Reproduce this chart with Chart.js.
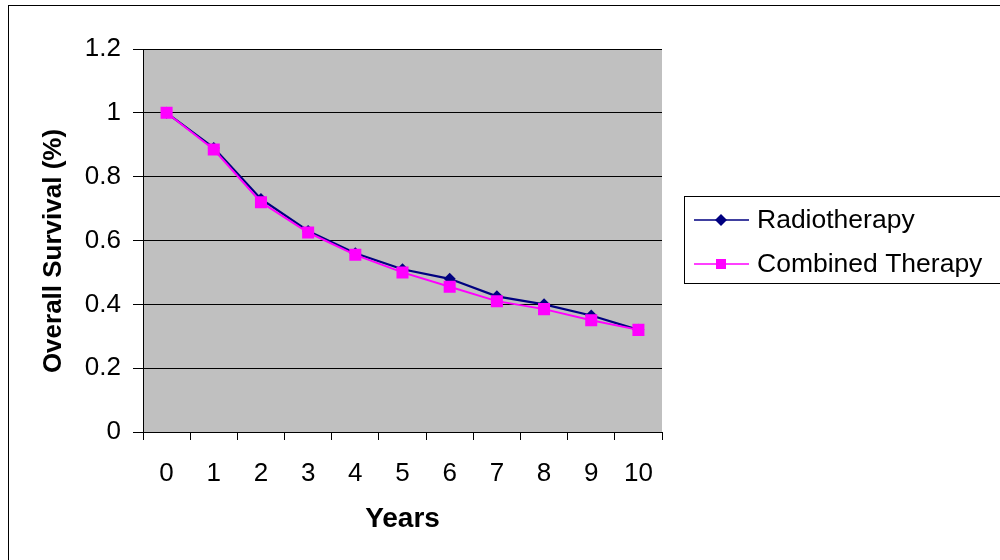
<!DOCTYPE html>
<html>
<head>
<meta charset="utf-8">
<script src="https://cdn.jsdelivr.net/npm/chart.js@4"></script>
<style>
  html, body { margin: 0; padding: 0; background: #ffffff; }
  #wrap { width: 1000px; height: 560px; position: relative; }
</style>
</head>
<body>
<div id="wrap"><canvas id="survivalChart" width="1000" height="560"></canvas></div>
<script>
// data
const years = ['0', '1', '2', '3', '4', '5', '6', '7', '8', '9', '10'];
const radiotherapy = [1.0, 0.89, 0.73, 0.63, 0.56, 0.51, 0.48, 0.425, 0.40, 0.365, 0.32];
const combinedTherapy = [1.0, 0.885, 0.72, 0.625, 0.555, 0.50, 0.455, 0.41, 0.385, 0.35, 0.32];
const seriesNames = ['Radiotherapy', 'Combined Therapy'];
const yTicks = [0, 0.2, 0.4, 0.6, 0.8, 1, 1.2];
const yTitle = 'Overall Survival (%)';

const FONT = 'Liberation Sans, Arial, sans-serif';

// frame, grey plot area, y title (sits a bit low, like Excel) and the boxed legend
const excelLook = {
    id: 'excelLook',
    beforeDraw(chart) {
        const ctx = chart.ctx;
        const a = chart.chartArea;
        ctx.save();
        ctx.fillStyle = '#ffffff';
        ctx.fillRect(0, 0, chart.width, chart.height);
        ctx.strokeStyle = '#000000';
        ctx.lineWidth = 1;
        ctx.strokeRect(8.5, 5.5, 1000, 600);
        ctx.fillStyle = '#c0c0c0';
        ctx.fillRect(a.left, a.top, a.right - a.left, a.bottom - a.top);
        ctx.restore();
    },
    afterDraw(chart) {
        const ctx = chart.ctx;
        ctx.save();
        ctx.translate(54, 251);
        ctx.rotate(-Math.PI / 2);
        ctx.font = 'bold 26px ' + FONT;
        ctx.fillStyle = '#000000';
        ctx.textAlign = 'center';
        ctx.textBaseline = 'middle';
        ctx.fillText(yTitle, 0, 0);
        ctx.restore();

        ctx.save();
        ctx.strokeStyle = '#000000';
        ctx.lineWidth = 1;
        ctx.strokeRect(684.5, 196.5, 330, 87);
        ctx.font = '26.5px ' + FONT;
        ctx.textBaseline = 'middle';
        chart.data.datasets.forEach((ds, i) => {
            const y = 220 + i * 44;
            ctx.strokeStyle = ds.borderColor;
            ctx.lineWidth = 1.5;
            ctx.beginPath();
            ctx.moveTo(694, y);
            ctx.lineTo(749, y);
            ctx.stroke();
            ctx.fillStyle = ds.backgroundColor;
            if (ds.pointStyle === 'rect') {
                ctx.fillRect(716, y - 5, 10, 10);
            } else {
                ctx.beginPath();
                ctx.moveTo(721, y - 6);
                ctx.lineTo(727, y);
                ctx.lineTo(721, y + 6);
                ctx.lineTo(715, y);
                ctx.closePath();
                ctx.fill();
            }
            ctx.fillStyle = '#000000';
            ctx.fillText(ds.label, 757, y + 1);
        });
        ctx.restore();
    }
};

new Chart(document.getElementById('survivalChart'), {
    type: 'line',
    data: {
        labels: years,
        datasets: [
            {
                label: seriesNames[0],
                data: radiotherapy,
                borderColor: '#000080',
                backgroundColor: '#000080',
                borderWidth: 2.2,
                pointStyle: 'rectRot',
                pointRadius: 6,
                pointBorderWidth: 0,
                tension: 0,
                order: 1
            },
            {
                label: seriesNames[1],
                data: combinedTherapy,
                borderColor: '#ff00ff',
                backgroundColor: '#ff00ff',
                borderWidth: 2,
                pointStyle: 'rect',
                pointRadius: 8.5,
                pointBorderWidth: 0,
                tension: 0,
                order: 0
            }
        ]
    },
    options: {
        responsive: false,
        animation: false,
        devicePixelRatio: 1,
        layout: { padding: { left: 0, top: 49, right: 338, bottom: 0 } },
        plugins: {
            legend: { display: false },
            tooltip: { enabled: false }
        },
        scales: {
            x: {
                type: 'category',
                offset: true,
                afterFit(scale) { scale.height = 128; },
                grid: {
                    offset: true,
                    drawOnChartArea: false,
                    color: '#000000',
                    tickLength: 8,
                    tickColor: '#000000'
                },
                border: { color: '#000000', width: 1 },
                ticks: {
                    color: '#000000',
                    font: { family: FONT, size: 26 },
                    padding: 18,
                    maxRotation: 0
                },
                title: {
                    display: true,
                    text: 'Years',
                    color: '#000000',
                    font: { family: FONT, size: 28, weight: 'bold' },
                    padding: { top: 0, bottom: 24 }
                }
            },
            y: {
                min: 0,
                max: 1.2,
                afterFit(scale) { scale.width = 143; },
                afterBuildTicks(scale) { scale.ticks = yTicks.map(v => ({ value: v })); },
                grid: {
                    color: '#000000',
                    lineWidth: 1,
                    tickLength: 10,
                    tickColor: '#000000'
                },
                border: { color: '#000000', width: 1 },
                ticks: {
                    color: '#000000',
                    font: { family: FONT, size: 26 },
                    padding: 12,
                    callback: v => String(Math.round(v * 10) / 10)
                }
            }
        }
    },
    plugins: [excelLook]
});
</script>
</body>
</html>
